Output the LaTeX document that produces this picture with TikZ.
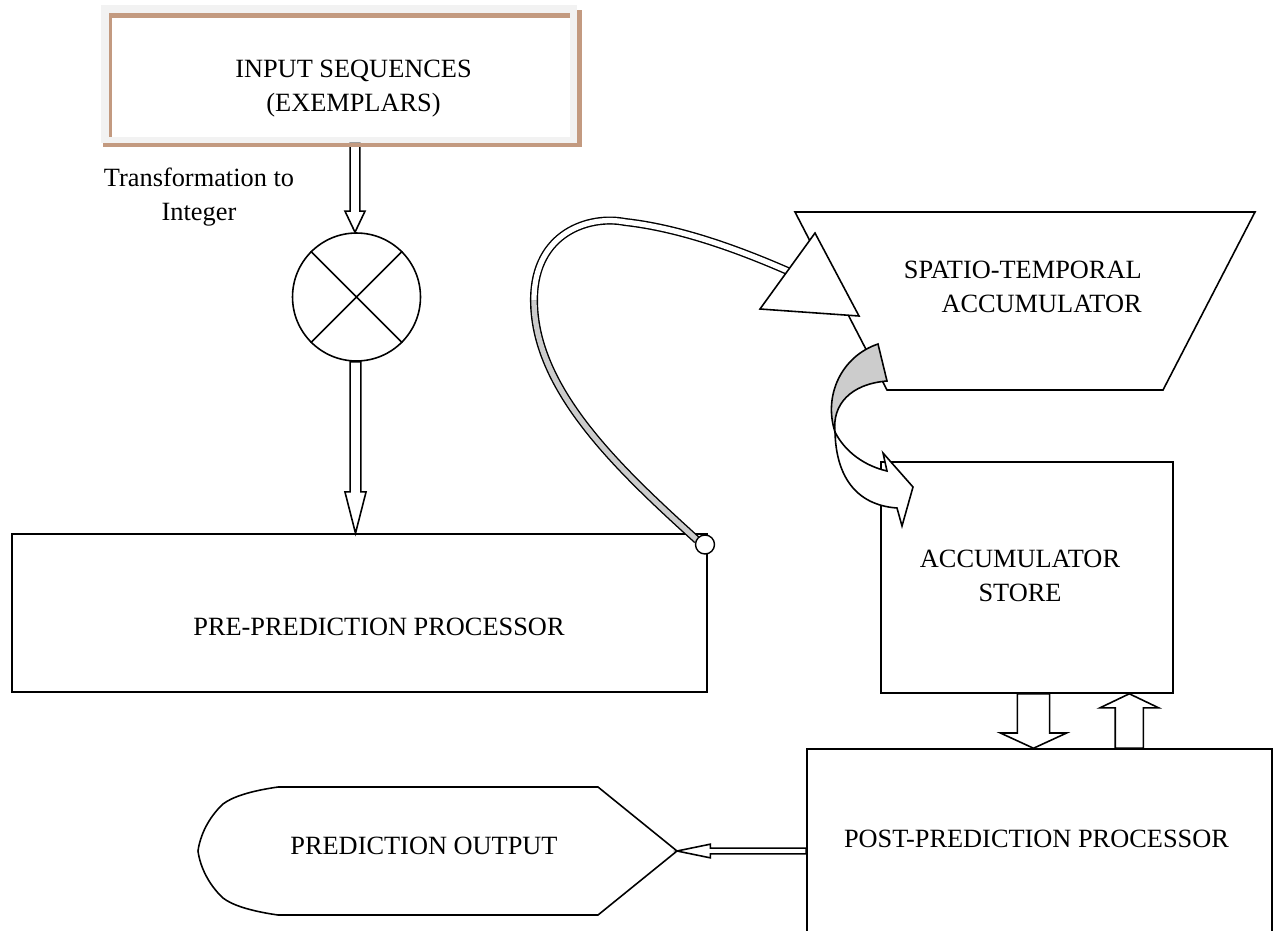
\documentclass[tikz,border=0pt]{standalone}
\usepackage{fontspec}
\setmainfont{Liberation Serif}
\usetikzlibrary{calc}
\definecolor{tanline}{RGB}{195,154,128}
\definecolor{framegray}{RGB}{242,242,242}
\definecolor{bandgray}{RGB}{204,204,204}
% block arrow: #1 shaft half width, #2 head half width, #3 head length, #4 start, #5 tip
\newcommand\blkarrow[5]{%
 \draw[blk] ($(#4)!#1!90:(#5)$) -- ($($(#5)!#3!(#4)$)!#1!90:(#5)$) -- ($($(#5)!#3!(#4)$)!#2!90:(#5)$) -- (#5) -- ($($(#5)!#3!(#4)$)!#2!-90:(#5)$) -- ($($(#5)!#3!(#4)$)!#1!-90:(#5)$) -- ($(#4)!#1!-90:(#5)$) -- cycle;}
\tikzset{
 every node/.style={font=\fontsize{15}{19.3}\selectfont},
 box/.style={draw, line width=0.9pt, inner sep=0pt},
 blk/.style={draw, fill=white, line width=0.9pt, line join=miter},
 txt/.style={align=center, inner sep=0pt},
 band/.style={line width=0.8pt, double distance=3pt},
}
\begin{document}
\begin{tikzpicture}[x=0.02cm, y=-0.02cm]
\useasboundingbox (0,0) rectangle (1281,930);
\clip (0,0) rectangle (1281,930);

% multiplier
\node[circle, draw, line width=0.9pt, minimum size=2.56cm, inner sep=0pt] (mult) at (356.5,297) {};
\draw[line width=0.9pt] (mult.45) -- (mult.225) (mult.135) -- (mult.315);

% input box
\node[fill=framegray, inner sep=0pt, minimum width=9.52cm, minimum height=2.76cm] (inp) at (339,74) {};
\coordinate (ax) at (355,0);
\blkarrow{2.8pt}{5.7pt}{12pt}{inp.south -| ax}{mult.north -| ax}
\fill[white] (110,13) rectangle (570,137);
\draw[tanline, line width=2.8pt] (109.5,15.5) -- (570,15.5);
\draw[tanline, line width=1.4pt] (110.5,13) -- (110.5,137);
\draw[tanline, line width=2.4pt] (579.5,10) -- (579.5,147);
\draw[tanline, line width=2.4pt] (103,145) -- (581,145);
\node[txt] at (353.5,89) {INPUT SEQUENCES\\(EXEMPLARS)};
\node[txt] (lbl) at (199,197) {Transformation to\\Integer};

% pre-prediction
\node[box, minimum width=13.9cm, minimum height=3.16cm,
 label={[txt, shift={(19.5,14)}]center:PRE-PREDICTION PROCESSOR}] (pre) at (359.5,613) {};
\coordinate (bx) at (355.5,0);
\blkarrow{3.1pt}{6pt}{23.5pt}{mult.south -| bx}{pre.north -| bx}

% trapezoid
\draw[line width=0.9pt, line join=miter] (795,212) -- (1255,212) -- (1163,390) -- (887,390) -- cycle;
\node[txt, align=right, anchor=east] (spt) at (1142,287) {SPATIO-TEMPORAL\\ACCUMULATOR};

% accumulator store
\node[box, minimum width=5.84cm, minimum height=4.62cm,
 label={[txt, shift={(-7,-1.5)}]center:ACCUMULATOR\\STORE}] (store) at (1027,577.5) {};

% post-prediction
\node[box, minimum width=9.3cm, minimum height=5.02cm,
 label={[txt, shift={(-3,-36)}]center:POST-PREDICTION PROCESSOR}] (post) at (1039.5,874.5) {};
\coordinate (dx) at (1033.5,0);
\coordinate (ux) at (1129.3,0);
\blkarrow{9.2pt}{18.9pt}{8.7pt}{store.south -| dx}{post.north -| dx}
\blkarrow{8pt}{16.7pt}{8pt}{post.north -| ux}{store.south -| ux}

% prediction output display
\draw[line width=0.9pt, line join=miter] (278,787) -- (598,787) -- (677,851) -- (598,915) -- (278,915)
 .. controls (250,911) and (232,905) .. (223,898)
 .. controls (208,884) and (200,866) .. (198,851)
 .. controls (200,836) and (208,818) .. (223,804)
 .. controls (232,797) and (250,791) .. (278,787) -- cycle;
\node[txt] (outtxt) at (424,845.5) {PREDICTION OUTPUT};
\coordinate (dispTip) at (677,851);
\coordinate (postW) at (post.west |- dispTip);
\blkarrow{1.6pt}{3.9pt}{19pt}{postW}{dispTip}

% curved arrow pre -> accumulator
\draw[band, double=bandgray] (697,540) .. controls (620,470) and (534,390) .. (534,300);
\draw[band, double=white] (534,300) .. controls (534,232) and (590,215) .. (625,222)
 .. controls (680,228) and (740,250) .. (790,272);
\draw[blk] (760,309) -- (815,233) -- (859,316) -- cycle;
\node[circle, draw, fill=white, line width=0.8pt, minimum size=0.38cm, inner sep=0pt] (dot) at (705,544.5) {};

% curved arrow accumulator -> store
\draw[blk] (835,432) .. controls (836,475) and (855,505) .. (897,508) -- (902,526) -- (913,487) -- (883,453) -- (887,471)
 .. controls (865,466) and (845,452) .. (835,432) -- cycle;
\draw[line width=0.9pt, fill=bandgray, line join=miter] (878,344) .. controls (842,356) and (823,395) .. (835,432)
 .. controls (832,405) and (850,384) .. (887,381) -- cycle;
\end{tikzpicture}
\end{document}
